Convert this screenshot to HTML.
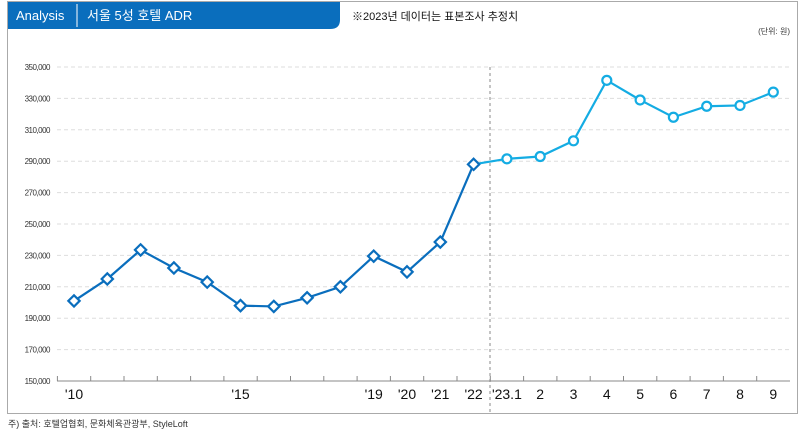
<!DOCTYPE html>
<html><head><meta charset="utf-8"><style>
body{margin:0;background:#fff;width:800px;height:436px;overflow:hidden;font-family:"Liberation Sans","Noto Sans CJK KR",sans-serif;}
</style></head><body>
<svg width="800" height="436" xmlns="http://www.w3.org/2000/svg">
<rect x="7.5" y="1.5" width="790" height="412" fill="#fff" stroke="#aaa"/>
<path d="M8 2 H340 V20 Q340 29 330 29 H8 Z" fill="#0a6ebd"/>
<line x1="77" y1="4" x2="77" y2="27" stroke="#fff" stroke-width="1"/>
<text x="16" y="20" fill="#fff" font-size="13">Analysis</text>
<text x="87" y="20" fill="#fff" font-size="13">서울 5성 호텔 ADR</text>
<text x="352" y="20" fill="#111" font-size="11">※2023년 데이터는 표본조사 추정치</text>
<text x="790" y="34" fill="#333" font-size="8" text-anchor="end">(단위: 원)</text>
<text x="8" y="427" fill="#333" font-size="9">주) 출처: 호텔업협회, 문화체육관광부, StyleLoft</text>
<g id="grid"></g><g id="axes"></g><g id="series"></g>
</svg>
<script>
const yTicks=[150000,170000,190000,210000,230000,250000,270000,290000,310000,330000,350000];
const xLabels=["'10","","","","","'15","","","","'19","'20","'21","'22","'23.1","2","3","4","5","6","7","8","9"];
const annualValues=[201000,215000,233500,222000,213000,198000,197500,203000,210000,229500,219500,238500,288000];
const monthlyValues=[291500,293000,303000,341500,329000,318000,325000,325500,334000];
const NS="http://www.w3.org/2000/svg";
const X=i=>74+i*33.3;
const Y=v=>381-(v-150000)*314/200000;
function mk(t,a,p){const e=document.createElementNS(NS,t);for(const k in a)e.setAttribute(k,a[k]);p.appendChild(e);return e;}
const grid=document.getElementById('grid'),axes=document.getElementById('axes'),ser=document.getElementById('series');
yTicks.forEach(v=>{
 if(v>150000){const l=mk('line',{x1:57,x2:790,y1:Y(v),y2:Y(v),stroke:'#ddd','stroke-dasharray':'4 3'},grid);
 
 }
 const t=mk('text',{x:50,y:Y(v)+3,'font-size':8,fill:'#333','text-anchor':'end','letter-spacing':'-0.5'},axes);t.textContent=v.toLocaleString('en-US');
 
 
});
const ax=mk('line',{x1:57,x2:790,y1:381,y2:381,stroke:'#888'},axes);


xLabels.forEach((s,i)=>{
 const tk=mk('line',{x1:X(i)-16.6,x2:X(i)-16.6,y1:381,y2:376,stroke:'#888'},axes);
 
 
 if(s){const t=mk('text',{x:X(i),y:399,'font-size':14,fill:'#111','text-anchor':'middle'},axes);t.textContent=s;
 
 }
});
const div=mk('line',{x1:490,x2:490,y1:67,y2:413,stroke:'#888','stroke-dasharray':'3 3'},axes);


const n=annualValues.length;
const lp=[[X(n-1),Y(annualValues[n-1])]].concat(monthlyValues.map((v,j)=>[X(n+j),Y(v)]));
const l2=mk('polyline',{points:lp.join(' '),fill:'none',stroke:'#14ace3','stroke-width':2.2},ser);


const l1=mk('polyline',{points:annualValues.map((v,i)=>[X(i),Y(v)]).join(' '),fill:'none',stroke:'#0a6ebd','stroke-width':2.2},ser);


annualValues.forEach((v,i)=>{
 const d=mk('rect',{x:X(i)-4,y:Y(v)-4,width:8,height:8,fill:'#fff',stroke:'#0a6ebd','stroke-width':2.2,transform:`rotate(45 ${X(i)} ${Y(v)})`},ser);
 
 
});
monthlyValues.forEach((v,j)=>{
 const c=mk('circle',{cx:X(n+j),cy:Y(v),r:4.5,fill:'#fff',stroke:'#14ace3','stroke-width':2.2},ser);
 
 
});
</script>
</body></html>
